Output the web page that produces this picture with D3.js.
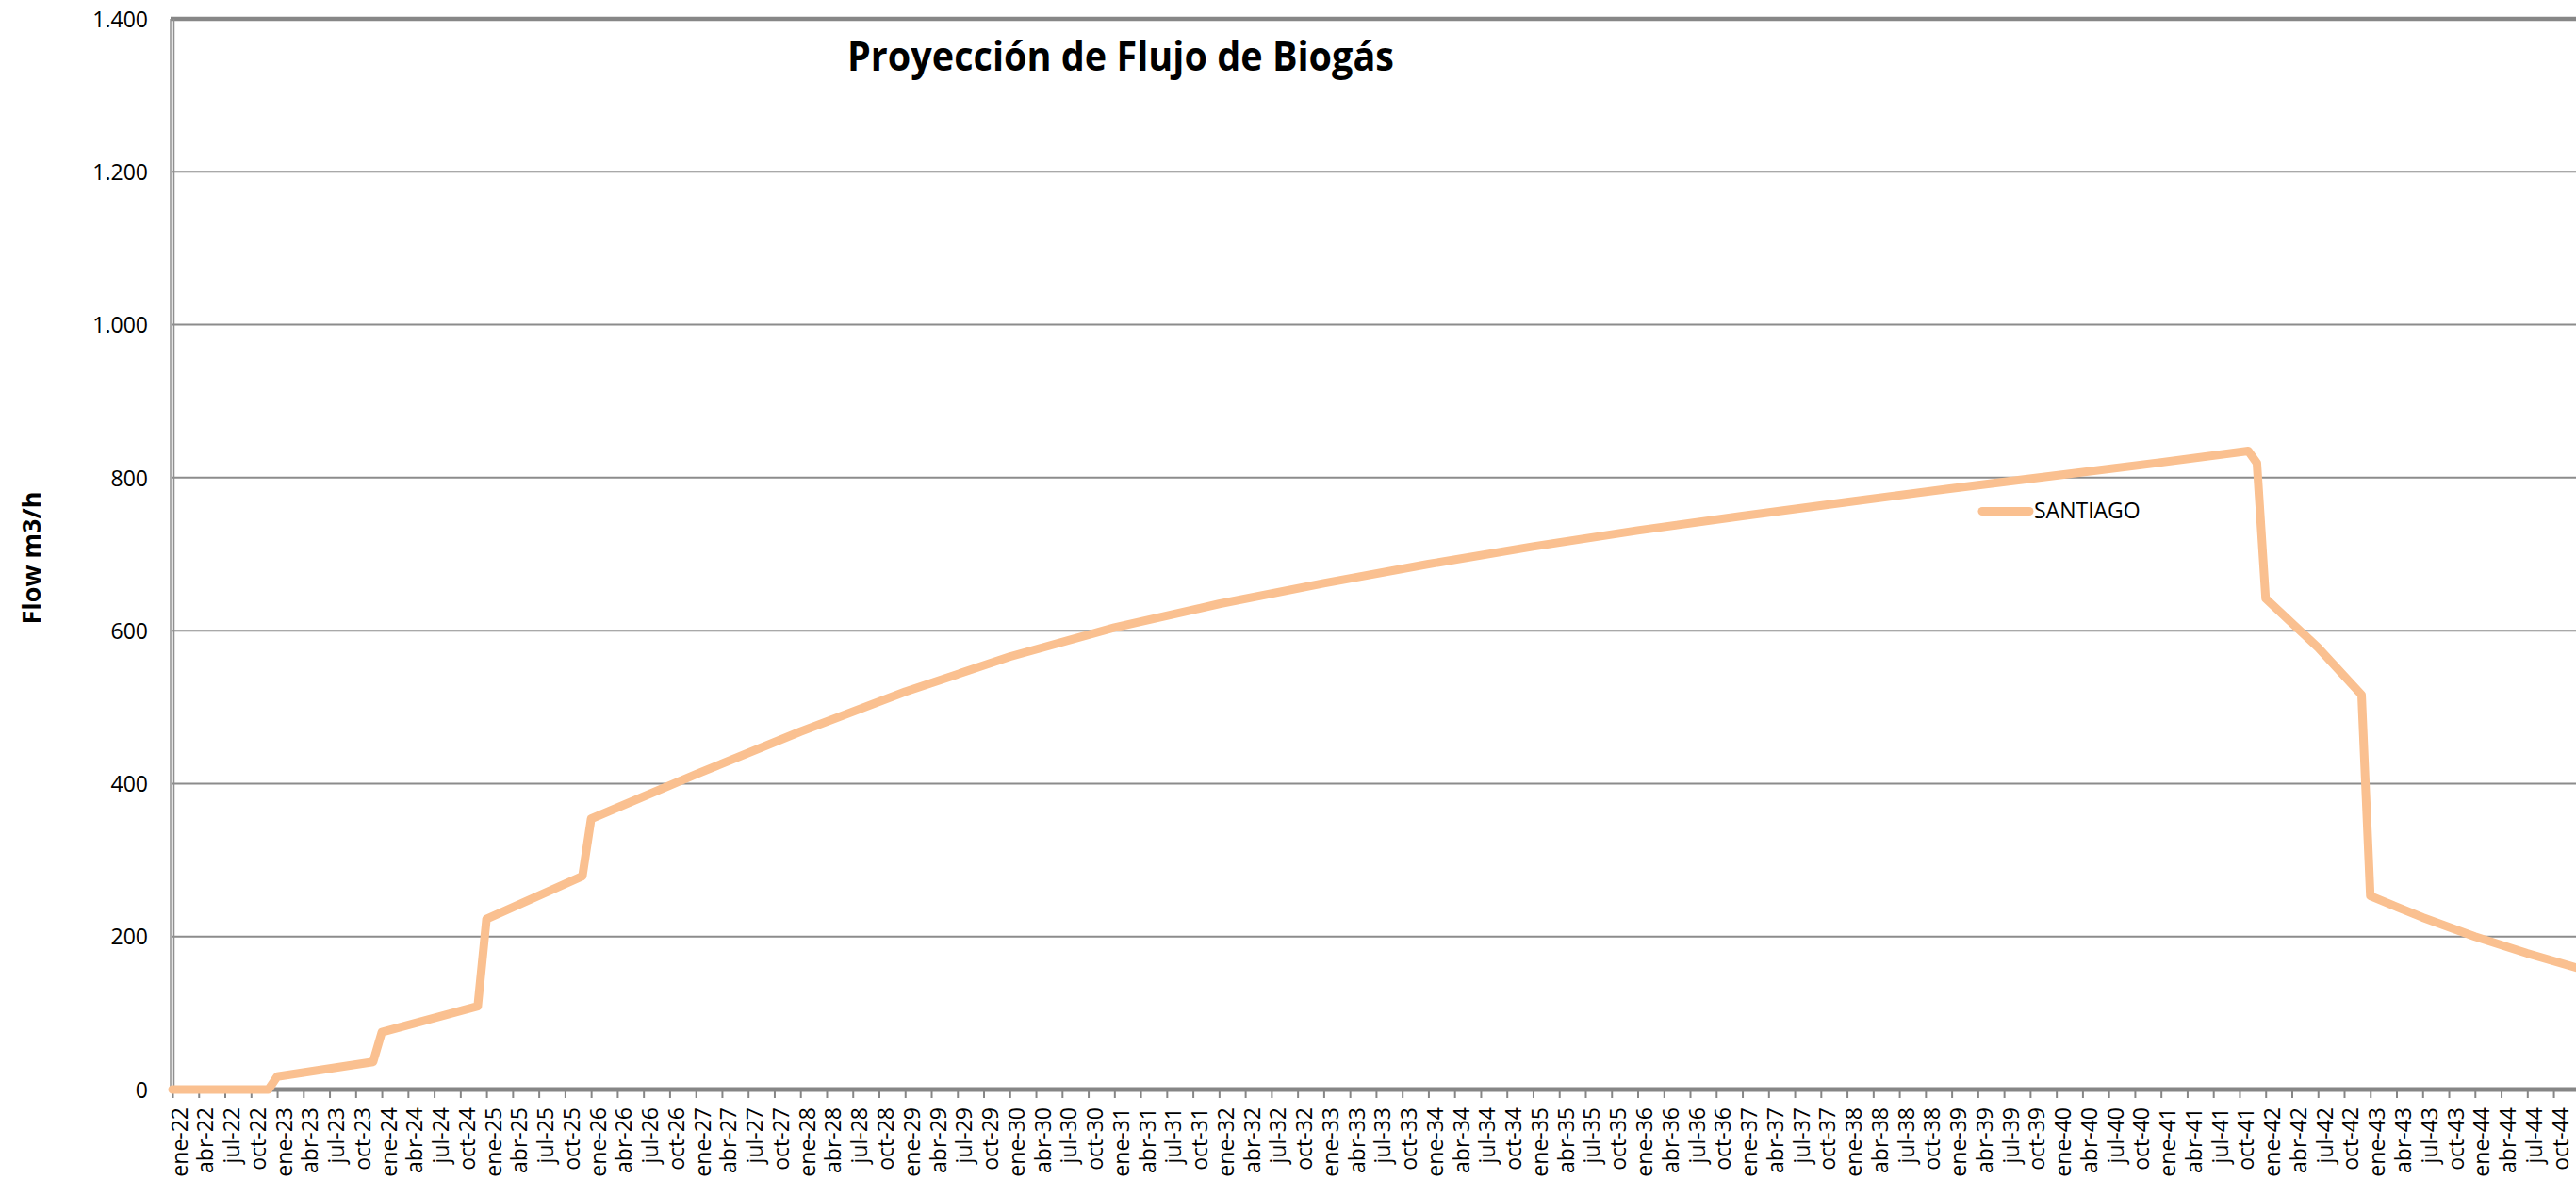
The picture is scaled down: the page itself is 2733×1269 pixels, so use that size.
<!DOCTYPE html>
<html>
<head>
<meta charset="utf-8">
<script src="https://cdn.jsdelivr.net/npm/d3@7"></script>
<style>
  html, body { margin: 0; padding: 0; background: #ffffff; }
  svg { display: block; }
</style>
</head>
<body>
<svg id="chart" width="2733" height="1269"></svg>
<script>
// ---------- data ----------
const monthNames = ["ene","feb","mar","abr","may","jun","jul","ago","sep","oct","nov","dic"];
const yearLabels = ["22","23","24","25","26","27","28","29","30","31","32","33","34","35","36","37","38","39","40","41","42","43","44","45"];
const yTickValues = [0, 200, 400, 600, 800, 1000, 1200, 1400];
const seriesName = "SANTIAGO";
const chartTitle = "Proyección de Flujo de Biogás";
const yAxisTitle = "Flow m3/h";

// points (month label, flow m3/h)
const pointMonths = [
  "ene-22","dic-22","ene-23","dic-23","ene-24","dic-24","ene-25","dic-25",
  "ene-26","ene-27","ene-28","ene-29","ene-30","ene-31","ene-32","ene-33",
  "ene-34","ene-35","ene-36","ene-37","ene-38","ene-39","ene-40","ene-41",
  "nov-41","dic-41","ene-42","jul-42","dic-42","ene-43","jul-43","ene-44",
  "jul-44","ene-45"
];
const flowValues = [
  0, 0, 17, 36, 75, 109, 223, 279,
  354, 412, 468, 520, 566, 604, 635, 662,
  687, 710, 731, 750, 768, 786, 803, 820,
  835, 819, 642, 578, 516, 253, 225, 200,
  178, 158
];

// monthly categories ene-22 ... ene-45
const categories = [];
yearLabels.forEach(y => monthNames.forEach(m => categories.push(m + "-" + y)));
categories.splice(categories.indexOf("ene-45") + 1);

// ---------- layout ----------
const W = 2733, H = 1269;
const left = 183, monthStep = 9.253;
const x0 = 1156, yTop = 20;
const svg = d3.select("#chart");
svg.append("rect").attr("width", W).attr("height", H).attr("fill", "#ffffff");

const x = d3.scalePoint()
  .domain(categories)
  .range([left, left + (categories.length - 1) * monthStep]);
const y = d3.scaleLinear().domain([0, 1400]).range([x0, yTop]);

const fmt = d3.formatLocale({decimal: ",", thousands: ".", grouping: [3], currency: ["", ""]}).format(",");
const FONT = "'Open Sans', 'Noto Sans', sans-serif";
const GRID = "#8c8c8c";

// gridlines
svg.append("g").selectAll("line")
  .data(yTickValues.filter(v => v > 0 && v < 1400))
  .join("line")
  .attr("x1", left).attr("x2", W)
  .attr("y1", d => y(d)).attr("y2", d => y(d))
  .attr("stroke", GRID).attr("stroke-width", 2);

// top border
svg.append("line")
  .attr("x1", 181).attr("x2", W)
  .attr("y1", y(1400)).attr("y2", y(1400))
  .attr("stroke", "#878787").attr("stroke-width", 4.5);

// left axis (double thin line)
svg.append("line").attr("x1", 181).attr("x2", 181).attr("y1", y(1400)).attr("y2", x0)
  .attr("stroke", "#8f8f8f").attr("stroke-width", 1.5);
svg.append("line").attr("x1", 184.5).attr("x2", 184.5).attr("y1", y(1400)).attr("y2", x0)
  .attr("stroke", "#8f8f8f").attr("stroke-width", 1.5);

// y axis labels
const yAxis = d3.axisLeft(y).tickValues(yTickValues).tickFormat(fmt).tickSize(0).tickPadding(0);
const gy = svg.append("g").attr("transform", "translate(157,0)").call(yAxis);
gy.select(".domain").remove();
gy.selectAll("text")
  .attr("font-family", FONT).attr("font-size", 23).attr("fill", "#000")
  .attr("x", 0).attr("dy", "0.36em").attr("text-anchor", "end");

// x axis (quarterly labels, only those inside the picture)
const xTicks = categories.filter((c, i) => i % 3 === 0 && x(c) < W - 10);
const xAxis = d3.axisBottom(x).tickValues(xTicks).tickSize(9).tickPadding(0);
const gx = svg.append("g").attr("transform", `translate(0,${x0})`).call(xAxis);
gx.select(".domain").remove();
gx.selectAll(".tick line").attr("stroke", "#868686").attr("stroke-width", 2);
gx.selectAll("text")
  .attr("font-family", FONT).attr("font-size", 23).attr("fill", "#000")
  .attr("text-anchor", "end")
  .attr("transform", "rotate(-90)")
  .attr("x", -19).attr("y", 15).attr("dy", 0);

// bottom axis line
svg.append("line")
  .attr("x1", left).attr("x2", W)
  .attr("y1", x0).attr("y2", x0)
  .attr("stroke", "#868686").attr("stroke-width", 5);

// series line
const pts = pointMonths.map((m, i) => ({m, v: flowValues[i]}));
const line = d3.line().x(d => x(d.m)).y(d => y(d.v));
svg.append("path")
  .datum(pts)
  .attr("d", line)
  .attr("fill", "none")
  .attr("stroke", "#FAC090")
  .attr("stroke-width", 9)
  .attr("stroke-linejoin", "round")
  .attr("stroke-linecap", "round");

// title
svg.append("text")
  .attr("x", 1189).attr("y", 75)
  .attr("text-anchor", "middle")
  .attr("font-family", FONT).attr("font-weight", "bold").attr("font-size", 43)
  .attr("textLength", 580).attr("lengthAdjust", "spacingAndGlyphs")
  .text(chartTitle);

// y axis title
svg.append("text")
  .attr("transform", "translate(43,592) rotate(-90)")
  .attr("text-anchor", "middle")
  .attr("font-family", FONT).attr("font-weight", "bold").attr("font-size", 27)
  .text(yAxisTitle);

// legend
const lg = svg.append("g");
lg.append("line")
  .attr("x1", 2103).attr("x2", 2153).attr("y1", 542.5).attr("y2", 542.5)
  .attr("stroke", "#FAC090").attr("stroke-width", 9).attr("stroke-linecap", "round");
lg.append("text")
  .attr("x", 2158).attr("y", 550)
  .attr("font-family", FONT).attr("font-size", 23).attr("fill", "#000")
  .text(seriesName);
</script>
</body>
</html>
